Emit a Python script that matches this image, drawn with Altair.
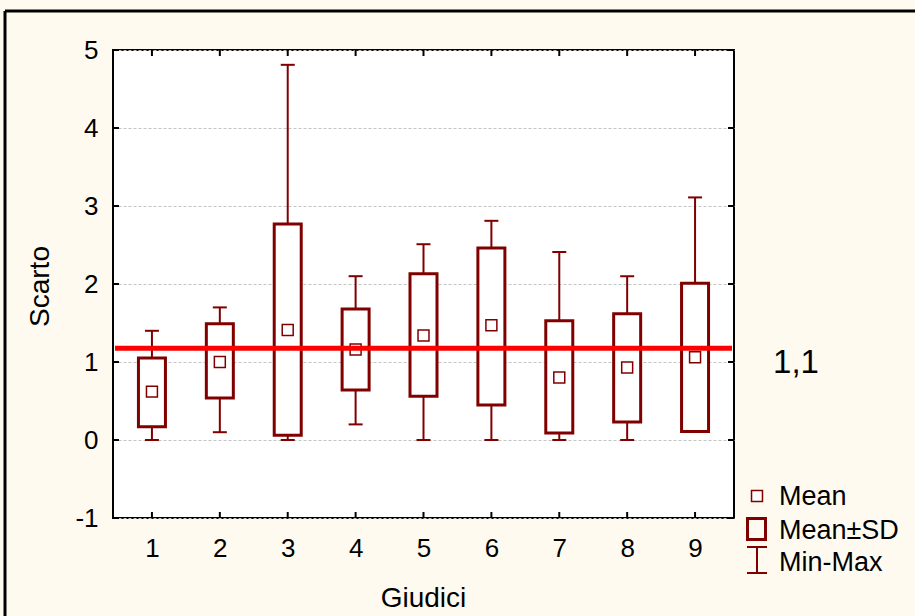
import altair as alt
import pandas as pd

# ---- data ----
judges = [1, 2, 3, 4, 5, 6, 7, 8, 9]
means = [0.62, 1.00, 1.41, 1.16, 1.34, 1.47, 0.80, 0.93, 1.06]
sd_low = [0.17, 0.54, 0.06, 0.64, 0.56, 0.45, 0.09, 0.23, 0.11]
sd_high = [1.05, 1.49, 2.77, 1.68, 2.13, 2.46, 1.53, 1.62, 2.01]
mins = [0.00, 0.10, 0.00, 0.20, 0.00, 0.00, 0.00, 0.00, 0.11]
maxs = [1.40, 1.70, 4.81, 2.10, 2.51, 2.81, 2.41, 2.10, 3.11]
ref_value = 1.175
ref_label = "1,1"
y_ticks = [-1, 0, 1, 2, 3, 4, 5]
legend_labels = ["Mean", "Mean\u00b1SD", "Min-Max"]

df = pd.DataFrame({"judge": judges, "mean": means, "lo": sd_low, "hi": sd_high,
                   "mn": mins, "mx": maxs})
xt = pd.DataFrame({"t": judges})
yt = pd.DataFrame({"t": y_ticks})
one = pd.DataFrame({"a": [0]})

FONT = "Liberation Sans"
DARK = "#800000"
W, H = 621, 468

xscale = alt.Scale(domain=[0.5, 9.5], nice=False, zero=False)
yscale = alt.Scale(domain=[-1, 5], nice=False, zero=False)
xaxis = alt.Axis(values=judges, title="Giudici", grid=False, ticks=False, domain=False,
                 labelPadding=17, labelFontSize=26, labelFont=FONT, labelColor="black",
                 labelExpr="datum.value + ''", labelFlush=False,
                 titleFontSize=28, titleFont=FONT, titleFontWeight="normal", titleColor="black",
                 titleX=310, titleY=88, titleBaseline="alphabetic", titleAlign="center")
yaxis = alt.Axis(values=y_ticks, title="Scarto", grid=True, gridColor="#C4C4C4",
                 gridDash=[3, 2], gridWidth=1, ticks=False, domain=False,
                 labelPadding=15, labelFontSize=26, labelFont=FONT, labelColor="black",
                 labelExpr="datum.value + ''", labelFlush=False,
                 titleFontSize=28, titleFont=FONT, titleFontWeight="normal", titleColor="black",
                 titleAngle=270, titleX=-65, titleY=236, titleBaseline="alphabetic",
                 titleAlign="center")


def X(f):
    return alt.X(f, type="quantitative", scale=xscale, axis=xaxis)


def Y(f):
    return alt.Y(f, type="quantitative", scale=yscale, axis=yaxis)


base = alt.Chart(df)

whisk = base.mark_rule(color=DARK, strokeWidth=2).encode(x=X("judge"), y=Y("mn"), y2="mx")
cap_hi = base.mark_tick(orient="horizontal", size=14, thickness=2, color=DARK, opacity=1).encode(
    x=X("judge"), y=Y("mx"))
cap_lo = base.mark_tick(orient="horizontal", size=14, thickness=2, color=DARK, opacity=1).encode(
    x=X("judge"), y=Y("mn"))
boxes = base.mark_bar(size=27, fill="white", stroke=DARK, strokeWidth=3).encode(
    x=X("judge"), y=Y("lo"), y2="hi")
mpts = base.mark_square(size=120, fill="white", stroke=DARK, strokeWidth=1.5, opacity=1).encode(
    x=X("judge"), y=Y("mean"))

ref = alt.Chart(one).mark_rule(color="#FF0000", strokeWidth=5).encode(
    y=alt.YDatum(ref_value, scale=yscale, axis=yaxis), x=alt.value(2), x2=alt.value(W - 2))
ref_txt = alt.Chart(one).mark_text(fontSize=33, font=FONT, color="black", align="center",
                                   baseline="middle", dy=15).encode(
    y=alt.YDatum(ref_value, scale=yscale, axis=yaxis), x=alt.value(683), text=alt.value(ref_label))

# inward ticks
tk_top = alt.Chart(xt).mark_rule(color="black", strokeWidth=2).encode(
    x=X("t"), y=alt.value(0), y2=alt.value(6))
tk_bot = alt.Chart(xt).mark_rule(color="black", strokeWidth=2).encode(
    x=X("t"), y=alt.value(H - 6), y2=alt.value(H))
tk_l = alt.Chart(yt).mark_rule(color="black", strokeWidth=2).encode(
    y=Y("t"), x=alt.value(0), x2=alt.value(6))
tk_r = alt.Chart(yt).mark_rule(color="black", strokeWidth=2).encode(
    y=Y("t"), x=alt.value(W - 6), x2=alt.value(W))

# outer frame
fr_top = alt.Chart(one).mark_rule(color="black", strokeWidth=3).encode(
    x=alt.value(-108), x2=alt.value(900), y=alt.value(-39))
fr_left = alt.Chart(one).mark_rule(color="black", strokeWidth=3).encode(
    x=alt.value(-108), y=alt.value(-39), y2=alt.value(700))

# legend
lg_mean = alt.Chart(one).mark_square(size=120, fill="white", stroke=DARK, strokeWidth=1.5,
                                      opacity=1).encode(x=alt.value(644), y=alt.value(446))
lg_box = alt.Chart(one).mark_rect(fill="white", fillOpacity=0, stroke=DARK, strokeWidth=3).encode(
    x=alt.value(634.5), x2=alt.value(652.5), y=alt.value(468.5), y2=alt.value(489.5))
lg_v = alt.Chart(one).mark_rule(color=DARK, strokeWidth=2).encode(
    x=alt.value(644), y=alt.value(496), y2=alt.value(524))
lg_t = alt.Chart(one).mark_rule(color=DARK, strokeWidth=2).encode(
    x=alt.value(634), x2=alt.value(654), y=alt.value(497))
lg_b = alt.Chart(one).mark_rule(color=DARK, strokeWidth=2).encode(
    x=alt.value(634), x2=alt.value(654), y=alt.value(523))
lg_texts = []
for lab, yy in zip(legend_labels, [455, 489, 521]):
    lg_texts.append(alt.Chart(one).mark_text(fontSize=27, font=FONT, color="black", align="left",
                                             baseline="alphabetic").encode(
        x=alt.value(666), y=alt.value(yy), text=alt.value(lab)))

chart = alt.layer(
    whisk, cap_hi, cap_lo, boxes, mpts, ref, ref_txt,
    tk_top, tk_bot, tk_l, tk_r, fr_top, fr_left,
    lg_mean, lg_box, lg_v, lg_t, lg_b, *lg_texts
).properties(
    width=W, height=H,
    autosize=alt.AutoSizeParams(type="none"),
    padding={"left": 113, "top": 50, "right": 181, "bottom": 98},
    background="#FFFAF0",
).configure_view(stroke="black", strokeWidth=2, fill="white")

chart.save("out.html", embed_options={"renderer": "svg", "actions": False})
